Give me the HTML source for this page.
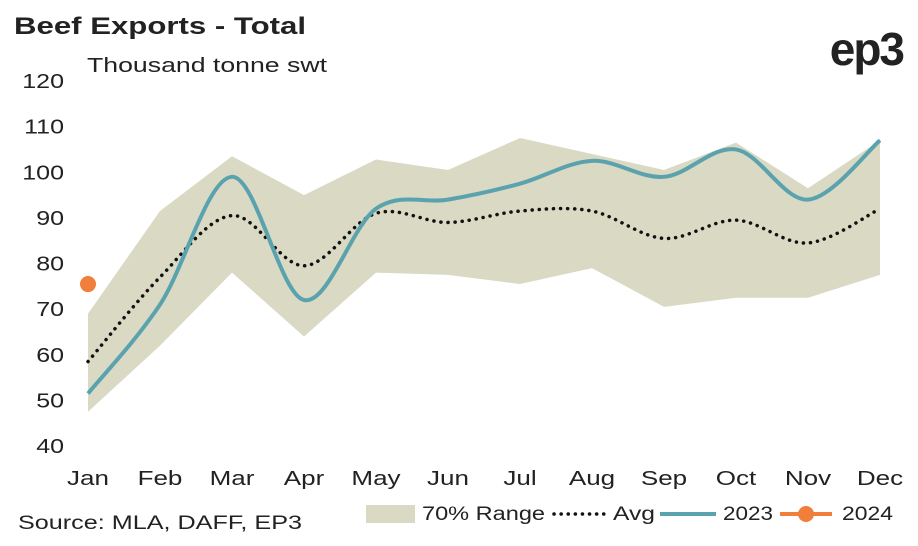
<!DOCTYPE html>
<html><head><meta charset="utf-8"><style>
body{margin:0;background:#fff;font-family:"Liberation Sans",sans-serif;}
svg text{font-family:"Liberation Sans",sans-serif;fill:#222;}
</style></head><body>
<svg id="chart" width="918" height="541">
<text x="14" y="34" font-size="24" font-weight="bold" textLength="292" lengthAdjust="spacingAndGlyphs">Beef Exports - Total</text>
<text x="87" y="72" font-size="20" textLength="240" lengthAdjust="spacingAndGlyphs">Thousand tonne swt</text>
<text x="903" y="65" font-size="46" font-weight="bold" text-anchor="end" style="fill:#222;letter-spacing:-2px">ep3</text>
<g id="yt"></g><g id="xt"></g><g id="marks"></g>
<text x="18" y="529" font-size="19" textLength="284" lengthAdjust="spacingAndGlyphs">Source: MLA, DAFF, EP3</text>
<g>
<rect x="366" y="505" width="49" height="18" fill="#d9d9c4"/>
<text x="422" y="520" font-size="19" textLength="123" lengthAdjust="spacingAndGlyphs">70% Range</text>
<line x1="554" y1="514" x2="604" y2="514" stroke="#111" stroke-width="3.5" stroke-dasharray="0.1 7" stroke-linecap="round"/>
<text x="613" y="520" font-size="19" textLength="42" lengthAdjust="spacingAndGlyphs">Avg</text>
<line x1="660" y1="514" x2="716" y2="514" stroke="#5aa3ae" stroke-width="4"/>
<text x="723" y="520" font-size="19" textLength="50" lengthAdjust="spacingAndGlyphs">2023</text>
<line x1="780" y1="514" x2="832" y2="514" stroke="#ef7f3a" stroke-width="4"/>
<circle cx="806" cy="514" r="8" fill="#ef7f3a"/>
<text x="842" y="520" font-size="19" textLength="51" lengthAdjust="spacingAndGlyphs">2024</text>
</g>
</svg>
<script>
const months=["Jan","Feb","Mar","Apr","May","Jun","Jul","Aug","Sep","Oct","Nov","Dec"];
const yTicks=[40,50,60,70,80,90,100,110,120];
const rangeUpper=[69,91.5,103.5,95,102.8,100.5,107.5,104,100.5,106.5,96.5,107];
const rangeLower=[47.5,62,78,64,78,77.5,75.5,79,70.5,72.5,72.5,77.5];
const avg=[58.5,77,90.5,79.5,91,89,91.5,91.5,85.5,89.5,84.5,92];
const s2023=[51.5,71,99,72,92,94,97.5,102.5,99,105,94,107];
const s2024=[75.5];
const NS="http://www.w3.org/2000/svg";
const X=i=>88+i*72.0;
const Y=v=>446-(v-40)*(365/80);
function mk(tag,attrs,parent){const e=document.createElementNS(NS,tag);for(const k in attrs)e.setAttribute(k,attrs[k]);parent.appendChild(e);return e;}
function widen(t,f){const w=t.getComputedTextLength();t.setAttribute('textLength',w*f);t.setAttribute('lengthAdjust','spacingAndGlyphs');}
const yt=document.getElementById('yt'),xt=document.getElementById('xt'),mg=document.getElementById('marks');
yTicks.forEach(v=>{const t=mk('text',{x:64,y:Y(v)+7,'font-size':20,'text-anchor':'end'},yt);t.textContent=v;widen(t,1.25);

});
months.forEach((m,i)=>{const t=mk('text',{x:X(i),y:485,'font-size':20,'text-anchor':'middle'},xt);t.textContent=m;widen(t,1.3);

});
let pts=rangeUpper.map((v,i)=>X(i)+','+Y(v)).concat(rangeLower.map((v,i)=>X(i)+','+Y(v)).reverse());
const poly=mk('polygon',{points:pts.join(' '),fill:'#d9d9c4'},mg);


function smooth(vals){const p=vals.map((v,i)=>[X(i),Y(v)]);let d='M'+p[0];
for(let i=0;i<p.length-1;i++){const p0=p[i-1]||p[i],p1=p[i],p2=p[i+1],p3=p[i+2]||p2;
const c1=[p1[0]+(p2[0]-p0[0])/6,p1[1]+(p2[1]-p0[1])/6],c2=[p2[0]-(p3[0]-p1[0])/6,p2[1]-(p3[1]-p1[1])/6];
d+=' C'+c1+' '+c2+' '+p2;}return d;}
const a=mk('path',{d:smooth(avg),fill:'none',stroke:'#111','stroke-width':3.5,'stroke-dasharray':'0.1 7','stroke-linecap':'round'},mg);


const l=mk('path',{d:smooth(s2023),fill:'none',stroke:'#5aa3ae','stroke-width':4},mg);


s2024.forEach((v,i)=>{const c=mk('circle',{cx:X(i),cy:Y(v),r:8,fill:'#ef7f3a'},mg);

});
</script>
</body></html>
